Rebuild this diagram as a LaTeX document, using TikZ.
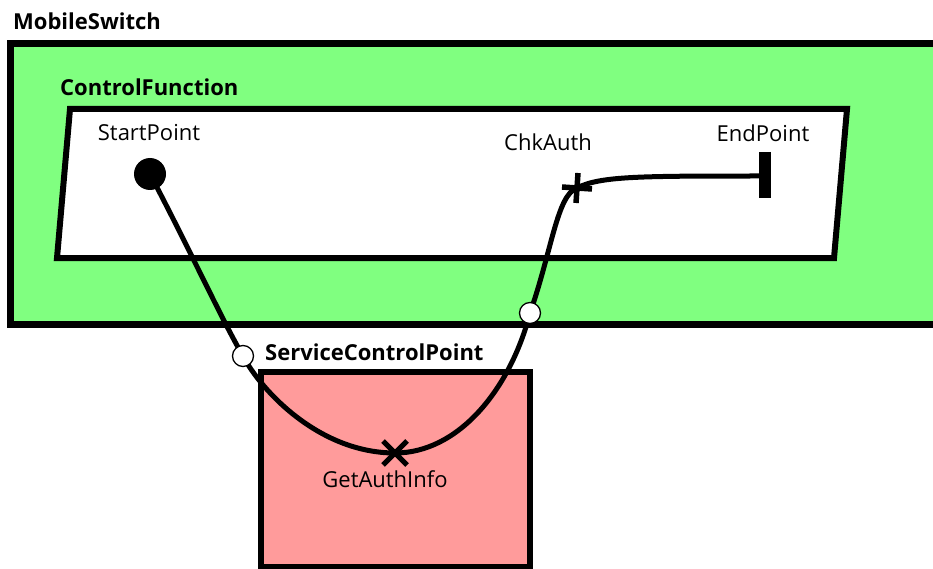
\documentclass[tikz,border=0pt]{standalone}
\usepackage{fontspec}
\setmainfont{Open Sans}
\usetikzlibrary{calc}
\definecolor{grn}{HTML}{80FF80}
\definecolor{rd}{HTML}{FF9B9B}
\begin{document}
\begin{tikzpicture}[x=1pt,y=-1pt,
  lbl/.style={font=\fontsize{22}{26}\selectfont, inner sep=0pt},
  blbl/.style={font=\fontsize{22}{26}\selectfont\bfseries, inner sep=0pt},
  box/.style={draw=black, line width=7pt},
  wire/.style={draw=black, line width=5pt, line cap=round},
  port/.style={circle, draw=black, fill=white, line width=1.3pt, minimum size=21pt, inner sep=0pt}]
\useasboundingbox (0,0) rectangle (933,569);
% MobileSwitch
\path[box, fill=grn] (10,44) rectangle (945,324);
\node[blbl, anchor=west] (ms) at (13,21) {MobileSwitch};
% ControlFunction
\path[box, fill=white, line width=6pt] (70,109) -- (847,109) -- (834,258) -- (57,258) -- cycle;
\node[blbl, anchor=west] (cf) at (60,87) {ControlFunction};
% ServiceControlPoint
\path[box, fill=rd, line width=6pt] (261,372) rectangle (530,567);
\node[blbl, anchor=west] (scp) at (265,352) {ServiceControlPoint};
% points
\coordinate (sp) at (150,174);
\coordinate (p1) at (243,356);
\coordinate (ga) at (395,453);
\coordinate (p2) at (530,313);
\coordinate (ck) at (577,188);
\coordinate (ep) at (765,176);
\draw[wire] (sp) .. controls (190,250) and (222,320) .. (p1)
  .. controls (262,392) and (320,453) .. (ga)
  .. controls (458,453) and (510,390) .. (p2)
  .. controls (552,250) and (557,195) .. (ck)
  .. controls (600,176) and (640,176) .. (ep);
\fill[black] (sp) circle (16);
\node[port] (c1) at (p1) {};
\node[port] (c2) at (p2) {};
% GetAuthInfo cross
\draw[black, line width=5pt] ($(ga)+(-12,-12)$) -- ($(ga)+(12,12)$);
\draw[black, line width=5pt] ($(ga)+(-12,12)$) -- ($(ga)+(12,-12)$);
% ChkAuth cross
\draw[black, line width=5.5pt] ($(ck)+(-15,-1)$) -- ($(ck)+(15,1)$);
\draw[black, line width=5.5pt] ($(ck)+(-1,15)$) -- ($(ck)+(1,-15)$);
% EndPoint bar
\draw[black, line width=12pt] (765,152) -- (765,198);
\node[lbl] (spl) at (149,133) {StartPoint};
\node[lbl] (ckl) at (548,142) {ChkAuth};
\node[lbl] (epl) at (763,133) {EndPoint};
\node[lbl] (gal) at (385,479) {GetAuthInfo};
\end{tikzpicture}
\end{document}
